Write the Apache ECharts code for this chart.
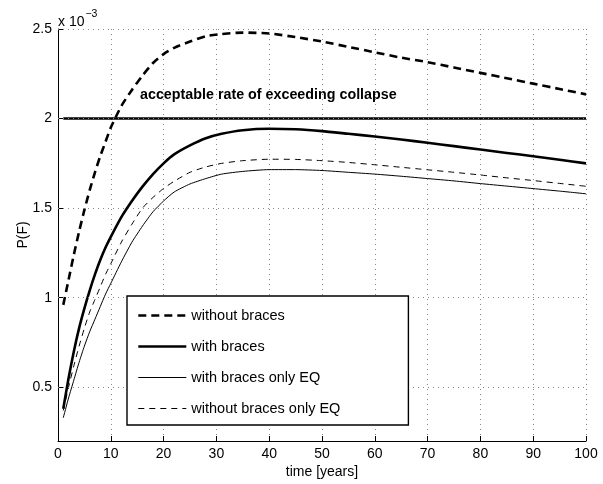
<!DOCTYPE html>
<html>
<head>
<meta charset="utf-8">
<script src="https://cdn.jsdelivr.net/npm/echarts@6/dist/echarts.min.js"></script>
<style>html,body{margin:0;padding:0;background:#fff}#c{width:603px;height:484px}</style>
</head>
<body>
<div id="c"></div>
<script>
const years = [1,2,3,4,5,6,7,8,9,10,12,14,16,18,20,22,25,28,31,35,40,45,50,55,60,65,70,75,80,85,90,95,100];
const withoutBraces = [0.96,1.10,1.24,1.37,1.49,1.60,1.70,1.79,1.87,1.95,2.07,2.16,2.24,2.31,2.36,2.395,2.43,2.46,2.472,2.48,2.475,2.455,2.43,2.40,2.37,2.34,2.315,2.285,2.255,2.225,2.195,2.165,2.135];
const withBraces = [0.38,0.55,0.70,0.83,0.94,1.04,1.13,1.21,1.28,1.34,1.45,1.54,1.62,1.69,1.75,1.80,1.85,1.89,1.915,1.935,1.943,1.94,1.93,1.915,1.90,1.883,1.865,1.846,1.827,1.808,1.79,1.77,1.75];
const withBracesEQ = [0.33,0.44,0.54,0.64,0.73,0.81,0.88,0.95,1.02,1.08,1.20,1.31,1.40,1.48,1.54,1.59,1.635,1.665,1.69,1.705,1.715,1.715,1.71,1.70,1.69,1.678,1.665,1.652,1.637,1.623,1.609,1.595,1.58];
const withoutBracesEQ = [0.37,0.50,0.62,0.73,0.83,0.92,0.99,1.06,1.13,1.19,1.31,1.41,1.50,1.56,1.61,1.65,1.70,1.73,1.75,1.765,1.773,1.772,1.765,1.755,1.742,1.728,1.714,1.70,1.685,1.669,1.654,1.638,1.622];
const acceptableYears = [1,100];
const acceptableRate = [2,2];
const yTicks = [0.5,1,1.5,2,2.5];
const seriesNames = ['without braces','with braces','with braces only EQ','without braces only EQ'];

const FONT = "'Liberation Sans', Arial, Helvetica, sans-serif";
const pairs = (xs, ys) => xs.map((x, i) => [x, ys[i]]);
const chart = echarts.init(document.getElementById('c'), null, {renderer: 'canvas'});

const styles = [
  {width: 2.6, type: [8, 5]},
  {width: 2.6, type: 'solid'},
  {width: 1, type: 'solid'},
  {width: 1, type: [6, 5]}
];

function lineSeries(name, data, st) {
  return {
    name: name, type: 'line', data: pairs(years, data),
    showSymbol: false, symbol: 'none', smooth: 0.2,
    lineStyle: {color: '#000', width: st.width, type: st.type, join: 'round'},
    itemStyle: {color: '#000'},
    emphasis: {disabled: true}, z: 3
  };
}

const option = {
  animation: false,
  backgroundColor: '#fff',
  textStyle: {fontFamily: FONT},
  grid: {left: 58, right: 17, top: 29, bottom: 41, containLabel: false},
  xAxis: {
    type: 'value', min: 0, max: 100, interval: 10,
    name: 'time [years]', nameLocation: 'middle', nameGap: 24, nameMoveOverlap: false,
    nameTextStyle: {fontFamily: FONT, fontSize: 14, color: '#000'},
    axisLine: {show: true, onZero: false, lineStyle: {color: '#000', width: 1}},
    axisTick: {show: true, inside: true, length: 5, lineStyle: {color: '#000'}},
    axisLabel: {fontFamily: FONT, fontSize: 14, color: '#000', margin: 6},
    splitLine: {show: true, lineStyle: {color: '#888', width: 1, type: [1, 4]}}
  },
  yAxis: {
    type: 'value', min: 0.2, max: 2.5,
    name: 'P(F)', nameLocation: 'middle', nameGap: 28, nameRotate: 90, nameMoveOverlap: false,
    nameTextStyle: {fontFamily: FONT, fontSize: 14, color: '#000'},
    axisLine: {show: true, onZero: false, lineStyle: {color: '#000', width: 1}},
    axisTick: {show: true, inside: true, length: 5, customValues: yTicks, lineStyle: {color: '#000'}},
    axisLabel: {fontFamily: FONT, fontSize: 14, color: '#000', margin: 6, customValues: yTicks,
      formatter: v => String(v)},
    splitLine: {show: false}
  },
  legend: {
    data: seriesNames.map((n, i) => ({name: n, lineStyle: {width: styles[i].width, type: styles[i].type, color: '#000'}})),
    orient: 'vertical', left: 127, top: 296,
    padding: [12, 68, 9, 10], itemGap: 16, itemWidth: 48, itemHeight: 14,
    backgroundColor: '#fff', borderColor: '#000', borderWidth: 1.4, borderRadius: 0,
    itemStyle: {opacity: 0, borderWidth: 0, color: 'transparent'},
    lineStyle: {width: 'inherit', type: 'inherit'},
    textStyle: {fontFamily: FONT, fontSize: 14.5, color: '#000', padding: [0, 0, 0, 0]},
    selectedMode: false, z: 10
  },
  series: [
    lineSeries(seriesNames[0], withoutBraces, styles[0]),
    lineSeries(seriesNames[1], withBraces, styles[1]),
    lineSeries(seriesNames[2], withBracesEQ, styles[2]),
    lineSeries(seriesNames[3], withoutBracesEQ, styles[3]),
    {
      name: 'acceptable', type: 'line', data: pairs(acceptableYears, acceptableRate),
      showSymbol: false, symbol: 'none', lineStyle: {color: '#000', width: 2.6},
      emphasis: {disabled: true}, z: 3,
      markLine: {
        silent: true, symbol: 'none', label: {show: false}, animation: false,
        lineStyle: {color: '#888', width: 1, type: [1, 4]},
        data: yTicks.map(v => ({yAxis: v}))
      }
    }
  ],
  graphic: [
    {type: 'text', left: 140, top: 88, z: 20,
     style: {text: 'acceptable rate of exceeding collapse', fontFamily: FONT, fontSize: 14.3, fontWeight: 'bold', fill: '#000'}},
    {type: 'text', left: 58, top: 9, z: 20,
     style: {text: '{a|x 10}{b|−3}', rich: {
       a: {fontFamily: FONT, fontSize: 14, fill: '#000', verticalAlign: 'bottom', padding: [6, 0, 0, 0]},
       b: {fontFamily: FONT, fontSize: 10.5, fill: '#000', verticalAlign: 'top', padding: [0, 0, 8, 1]}
     }}}
  ]
};
chart.setOption(option);
</script>
</body>
</html>
